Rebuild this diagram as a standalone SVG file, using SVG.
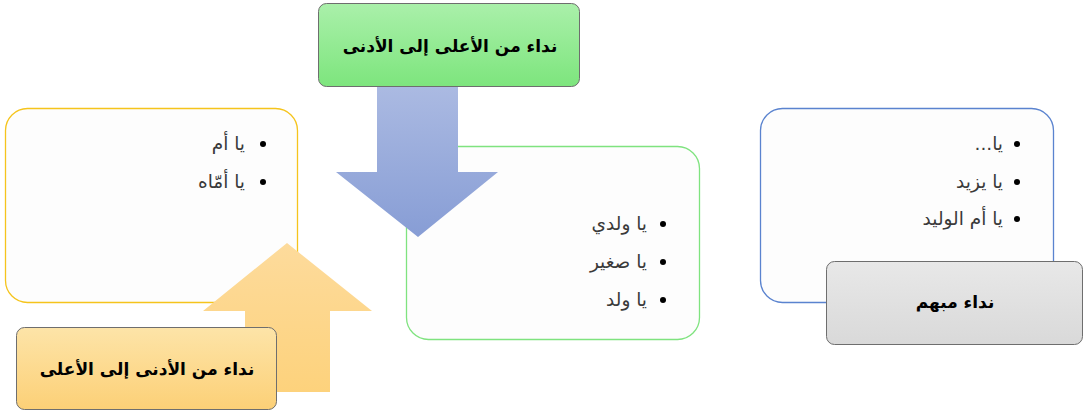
<svg xmlns="http://www.w3.org/2000/svg" width="1084" height="413" viewBox="0 0 1084 413">
<defs>
<linearGradient id="gBlue" x1="0" y1="0" x2="0" y2="1"><stop offset="0" stop-color="#abbae2"/><stop offset="1" stop-color="#879dd5"/></linearGradient>
<linearGradient id="gYel" x1="0" y1="0" x2="0" y2="1"><stop offset="0" stop-color="#fddb9c"/><stop offset="1" stop-color="#fdd27c"/></linearGradient>
<linearGradient id="gGreen" x1="0" y1="0" x2="0" y2="1"><stop offset="0" stop-color="#aaf0aa"/><stop offset="1" stop-color="#7de57d"/></linearGradient>
<linearGradient id="gOrange" x1="0" y1="0" x2="0" y2="1"><stop offset="0" stop-color="#fde4a8"/><stop offset="1" stop-color="#fcd077"/></linearGradient>
<linearGradient id="gGray" x1="0" y1="0" x2="0" y2="1"><stop offset="0" stop-color="#e8e8e8"/><stop offset="1" stop-color="#d9d9d9"/></linearGradient>
</defs>
<style>
.box{fill:#fdfdfd;stroke-width:1.3}
.lbl{stroke:#6e6e6e;stroke-width:1}
.t{font-family:"DejaVu Sans",sans-serif;font-size:18.5px;fill:#3a3a3a}
.h{font-family:"DejaVu Sans",sans-serif;font-size:17px;font-weight:bold;fill:#000}
.b{fill:#000}
</style>
<rect width="1084" height="413" fill="#fff"/>

<g id="box-left">
<rect class="box" x="5.5" y="108.5" width="292" height="194" rx="22" stroke="#f5c41c"/>
<circle class="b" cx="263" cy="144" r="3"/>
<text class="t" x="245" y="150" direction="rtl" text-anchor="start">يا أم</text>
<circle class="b" cx="263" cy="182" r="3"/>
<text class="t" x="245" y="188" direction="rtl" text-anchor="start">يا أمّاه</text>
</g>

<g id="box-middle">
<rect class="box" x="406.5" y="146.5" width="293" height="193" rx="22" stroke="#7fe37f"/>
<circle class="b" cx="663" cy="224" r="3"/>
<text class="t" x="647" y="230" direction="rtl" text-anchor="start">يا ولدي</text>
<circle class="b" cx="663" cy="262" r="3"/>
<text class="t" x="647" y="268" direction="rtl" text-anchor="start">يا صغير</text>
<circle class="b" cx="663" cy="300" r="3"/>
<text class="t" x="647" y="306" direction="rtl" text-anchor="start">يا ولد</text>
</g>

<g id="box-right">
<rect class="box" x="760.5" y="108.5" width="293" height="194" rx="22" stroke="#5a83cf"/>
<circle class="b" cx="1017" cy="144" r="3"/>
<text class="t" x="1003" y="150" direction="rtl" text-anchor="start">يا...</text>
<circle class="b" cx="1017" cy="182" r="3"/>
<text class="t" x="1003" y="188" direction="rtl" text-anchor="start">يا يزيد</text>
<circle class="b" cx="1017" cy="219" r="3"/>
<text class="t" x="1003" y="225" direction="rtl" text-anchor="start">يا أم الوليد</text>
</g>

<g id="connectors">
<polygon id="arrow-down" points="377,86 458,86 458,172 498,172 418,237 336,172 377,172" fill="url(#gBlue)"/>
<polygon id="arrow-up" points="287,243 372,311 330,311 330,392 245,392 245,311 203,311" fill="url(#gYel)"/>
</g>

<g id="label-top">
<rect class="lbl" x="318.5" y="3.5" width="261" height="83" rx="8" fill="url(#gGreen)"/>
<text class="h" x="450" y="52" text-anchor="middle" direction="rtl">نداء من الأعلى إلى الأدنى</text>
</g>

<g id="label-bottom">
<rect class="lbl" x="16.5" y="327.5" width="260" height="82" rx="8" fill="url(#gOrange)"/>
<text class="h" x="147" y="375" text-anchor="middle" direction="rtl">نداء من الأدنى إلى الأعلى</text>
</g>

<g id="label-right">
<rect class="lbl" x="826.5" y="261.5" width="256" height="83" rx="8" fill="url(#gGray)"/>
<text class="h" x="955" y="308" text-anchor="middle" direction="rtl">نداء مبهم</text>
</g>
</svg>
